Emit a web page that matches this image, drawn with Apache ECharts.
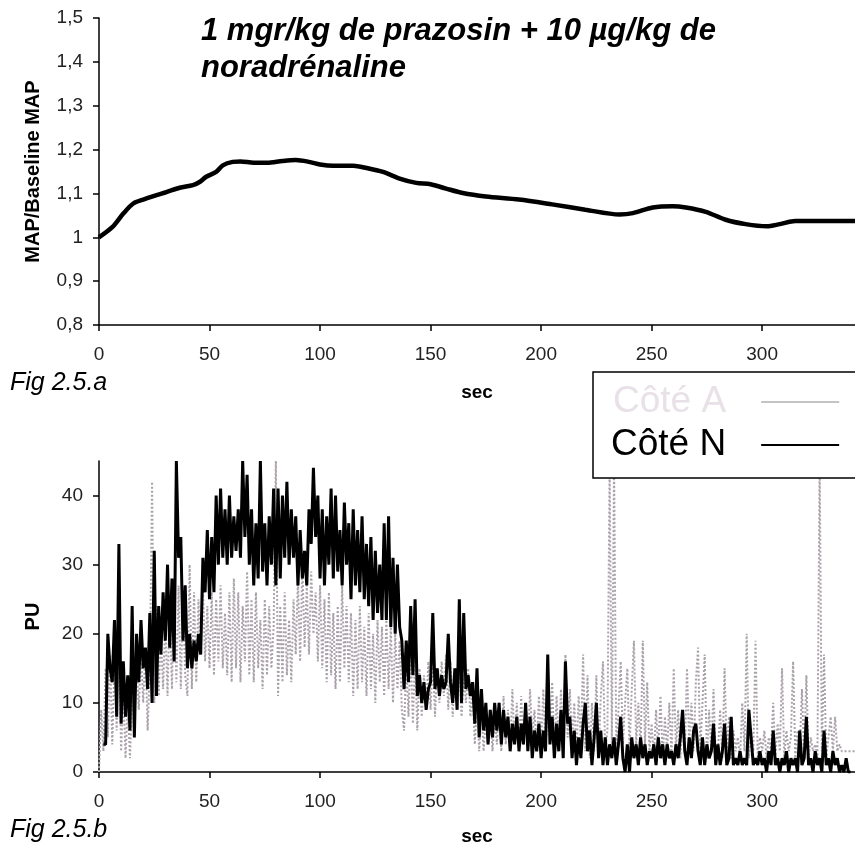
<!DOCTYPE html>
<html>
<head>
<meta charset="utf-8">
<title>Fig 2.5</title>
<script src="https://cdn.jsdelivr.net/npm/echarts@6/dist/echarts.min.js"></script>
<style>
  html, body { margin: 0; padding: 0; background: #fff; }
  #chart { width: 855px; height: 847px; }
</style>
</head>
<body>
<div id="chart"></div>
<script>
// Fig 2.5.a : MAP / baseline MAP
const mapSec = [0, 6, 11, 15.5, 20, 26, 30.5, 36.5, 42.5, 45.5, 48.5, 53, 56, 60.5, 64, 70, 76, 83, 89, 95,
  100, 106, 115, 121, 128.5, 136, 143.5, 150, 157, 164.5, 175, 190, 205, 220, 235.5, 241.5, 250.5,
  259.5, 265.5, 274.5, 283.5, 292.5, 302, 308, 315, 326, 342]
const mapRatio = [1.0, 1.023, 1.054, 1.077, 1.086, 1.096, 1.103, 1.113, 1.119, 1.126, 1.138, 1.149, 1.164, 1.172, 1.173, 1.17, 1.17, 1.174, 1.176, 1.172,
  1.166, 1.163, 1.163, 1.158, 1.149, 1.134, 1.124, 1.121, 1.111, 1.101, 1.093, 1.086, 1.075, 1.063, 1.052, 1.055, 1.068,
  1.071, 1.068, 1.058, 1.040, 1.030, 1.025, 1.030, 1.037, 1.037, 1.037]

// Fig 2.5.b : PU, one sample per second
const secStep = 1
const coteN = [
  null, null, 4, 4, 20, 15, 13, 22, 8, 33,
  7, 16, 8, 14, 6, 24, 5, 20, 13, 22,
  15, 18, 12, 23, 10, 32, 11, 24, 17, 26,
  19, 30, 18, 28, 16, 45, 31, 34, 19, 27,
  15, 20, 15, 19, 16, 20, 17, 31, 26, 35,
  25, 34, 26, 40, 30, 41, 31, 38, 30, 40,
  31, 37, 32, 38, 31, 45, 34, 43, 30, 38,
  27, 36, 28, 45, 29, 36, 27, 37, 30, 41,
  27, 41, 28, 40, 31, 42, 30, 38, 31, 37,
  27, 35, 28, 32, 27, 38, 33, 44, 34, 40,
  28, 38, 27, 37, 30, 41, 28, 40, 29, 35,
  27, 39, 30, 36, 25, 38, 27, 35, 26, 37,
  25, 33, 24, 34, 22, 32, 23, 30, 22, 36,
  22, 37, 21, 31, 20, 30, 21, 19, 12, 19,
  13, 24, 14, 25, 11, 14, 10, 13, 9, 12,
  13, 23, 12, 15, 11, 14, 12, 13, 20, 13,
  10, 15, 9, 25, 10, 23, 12, 14, 11, 13,
  7, 15, 5, 12, 6, 10, 4, 9, 5, 10,
  6, 10, 4, 9, 5, 8, 3, 7, 4, 8,
  3, 7, 4, 10, 3, 8, 2, 6, 3, 7,
  2, 6, 3, 17, 4, 8, 2, 7, 3, 9,
  2, 16, 7, 8, 2, 6, 1, 5, 2, 7,
  10, 3, 6, 1, 5, 10, 2, 6, 1, 5,
  1, 4, 2, 5, 1, 4, 8, 2, 0, 4,
  0, 5, 2, 4, 1, 5, 2, 4, 1, 3,
  2, 4, 1, 5, 2, 4, 1, 4, 2, 3,
  1, 4, 2, 5, 9, 3, 1, 5, 2, 6,
  7, 3, 1, 5, 1, 4, 2, 3, 7, 1,
  4, 1, 3, 7, 1, 2, 8, 1, 2, 1,
  3, 1, 2, 1, 9, 5, 1, 2, 1, 3,
  1, 2, 0, 3, 1, 6, 1, 2, 0, 2,
  1, 3, 0, 2, 1, 2, 0, 6, 1, 2,
  8, 1, 2, 0, 3, 1, 2, 0, 6, 1,
  2, 0, 3, 1, 2, 0, 1, 0, 2, 0,
  0
]
const coteA = [
  0, 9, 3, 15, 5, 17, 4, 16, 6, 20,
  3, 12, 2, 10, 2, 11, 8, 16, 9, 17,
  10, 18, 6, 15, 42, 10, 24, 11, 20, 12,
  22, 11, 24, 12, 26, 13, 27, 12, 25, 14,
  11, 30, 12, 26, 13, 25, 17, 27, 16, 24,
  15, 26, 14, 25, 16, 27, 15, 23, 14, 26,
  13, 28, 15, 26, 13, 24, 16, 29, 14, 25,
  13, 26, 15, 22, 12, 25, 14, 24, 15, 21,
  45, 11, 24, 13, 26, 14, 22, 13, 25, 17,
  28, 16, 30, 18, 27, 17, 29, 20, 26, 16,
  27, 15, 25, 13, 26, 14, 23, 12, 24, 13,
  27, 15, 24, 13, 23, 11, 22, 12, 24, 13,
  21, 11, 23, 12, 20, 10, 22, 13, 21, 11,
  22, 12, 21, 10, 20, 12, 19, 9, 6, 16,
  8, 18, 7, 17, 6, 15, 8, 14, 9, 16,
  9, 17, 8, 15, 10, 16, 11, 17, 9, 16,
  8, 15, 9, 16, 8, 14, 10, 15, 8, 12,
  4, 10, 3, 9, 3, 8, 4, 9, 3, 8,
  4, 10, 3, 11, 4, 9, 3, 12, 4, 10,
  3, 11, 4, 10, 3, 12, 5, 9, 3, 11,
  4, 12, 3, 10, 5, 13, 3, 11, 4, 12,
  3, 17, 5, 12, 4, 10, 3, 11, 4, 17,
  3, 14, 2, 10, 3, 14, 2, 11, 16, 3,
  6, 45, 4, 45, 3, 9, 16, 4, 10, 15,
  3, 12, 19, 4, 10, 3, 19, 4, 13, 3,
  7, 2, 9, 3, 11, 2, 8, 3, 10, 2,
  15, 3, 9, 2, 8, 3, 15, 4, 10, 3,
  13, 18, 3, 10, 17, 2, 9, 3, 12, 2,
  3, 9, 2, 15, 3, 8, 2, 6, 3, 5,
  2, 10, 3, 20, 2, 6, 3, 19, 2, 5,
  3, 6, 2, 5, 3, 10, 2, 7, 3, 15,
  2, 6, 3, 5, 16, 2, 6, 3, 12, 2,
  14, 2, 5, 3, 4, 2, 45, 3, 17, 2,
  5, 8, 3, 8, 3, 4, 3, 3, 3, 3,
  3, 3, 3
]

const FONT = '"Liberation Sans", Arial, sans-serif'

function bySecond(values) {
  return values.map((v, i) => [i * secStep, v])
}

function secAxis(gridIndex, nameGap) {
  return {
    type: 'value',
    gridIndex: gridIndex,
    min: 0,
    max: 342,
    interval: 50,
    name: 'sec',
    nameLocation: 'middle',
    nameGap: nameGap,
    nameTextStyle: { fontFamily: FONT, fontSize: 19, fontWeight: 'bold', color: '#000' },
    axisLine: { lineStyle: { color: '#000', width: 1.5 } },
    axisTick: { length: 6, lineStyle: { color: '#000', width: 1.5 } },
    axisLabel: { margin: 20, fontFamily: FONT, fontSize: 19, color: '#222', showMaxLabel: false },
    splitLine: { show: false }
  }
}

const chart = echarts.init(document.getElementById('chart'))

chart.setOption({
  backgroundColor: '#fff',
  animation: false,
  grid: [
    { left: 99, top: 18, width: 756, height: 307 },
    { left: 99, top: 461, width: 756, height: 313 }
  ],
  xAxis: [secAxis(0, 58), secAxis(1, 55)],
  yAxis: [
    {
      type: 'value',
      gridIndex: 0,
      min: 0.8,
      max: 1.5,
      interval: 0.1,
      name: 'MAP/Baseline MAP',
      nameLocation: 'middle',
      nameGap: 56,
      nameTextStyle: { fontFamily: FONT, fontSize: 20, fontWeight: 'bold', color: '#000' },
      axisLine: { show: true, lineStyle: { color: '#000', width: 1.5 } },
      axisTick: { show: true, length: 6, lineStyle: { color: '#000', width: 1.5 } },
      axisLabel: {
        margin: 16, fontFamily: FONT, fontSize: 19, color: '#222',
        formatter: v => String(+v.toFixed(1)).replace('.', ',')
      },
      splitLine: { show: false }
    },
    {
      type: 'value',
      gridIndex: 1,
      min: 0,
      max: 45,
      interval: 10,
      name: 'PU',
      nameLocation: 'middle',
      nameGap: 56,
      nameTextStyle: { fontFamily: FONT, fontSize: 20, fontWeight: 'bold', color: '#000' },
      axisLine: { show: true, lineStyle: { color: '#000', width: 1.5 } },
      axisTick: { show: true, length: 6, lineStyle: { color: '#000', width: 1.5 } },
      axisLabel: { margin: 16, fontFamily: FONT, fontSize: 19, color: '#222', showMaxLabel: false },
      splitLine: { show: false }
    }
  ],
  legend: {
    orient: 'vertical',
    align: 'right',
    left: 593,
    top: 372,
    padding: [10, 30, 13, 18],
    itemGap: 3,
    itemWidth: 78,
    itemHeight: 2,
    borderColor: '#000',
    borderWidth: 1.5,
    backgroundColor: '#fff',
    selectedMode: false,
    textStyle: { fontFamily: FONT, fontSize: 37, lineHeight: 40, padding: [0, 30, 0, 0] },
    data: [
      { name: 'Côté A', icon: 'rect', itemStyle: { color: '#c4c4c4' }, textStyle: { color: '#e8e1e8' } },
      { name: 'Côté N', icon: 'rect', itemStyle: { color: '#000' }, textStyle: { color: '#000' } }
    ]
  },
  graphic: [
    {
      type: 'text', left: 201, top: 13,
      style: {
        text: '1 mgr/kg de prazosin + 10 µg/kg de\nnoradrénaline',
        font: 'italic bold 31px ' + FONT, lineHeight: 37, fill: '#000'
      }
    },
    {
      type: 'text', left: 10, top: 371,
      style: { text: 'Fig 2.5.a', font: 'italic 25px ' + FONT, fill: '#000' }
    },
    {
      type: 'text', left: 10, top: 818,
      style: { text: 'Fig 2.5.b', font: 'italic 25px ' + FONT, fill: '#000' }
    }
  ],
  series: [
    {
      name: 'MAP',
      type: 'line',
      xAxisIndex: 0,
      yAxisIndex: 0,
      data: mapSec.map((s, i) => [s, mapRatio[i]]),
      smooth: 0.3,
      showSymbol: false,
      lineStyle: { color: '#000', width: 4.5 }
    },
    {
      name: 'Côté A',
      type: 'line',
      xAxisIndex: 1,
      yAxisIndex: 1,
      data: bySecond(coteA),
      showSymbol: false,
      lineStyle: { color: '#aaa2aa', width: 2, type: 'dotted' }
    },
    {
      name: 'Côté N',
      type: 'line',
      xAxisIndex: 1,
      yAxisIndex: 1,
      data: bySecond(coteN),
      showSymbol: false,
      lineStyle: { color: '#000', width: 3 }
    }
  ]
})
</script>
</body>
</html>
